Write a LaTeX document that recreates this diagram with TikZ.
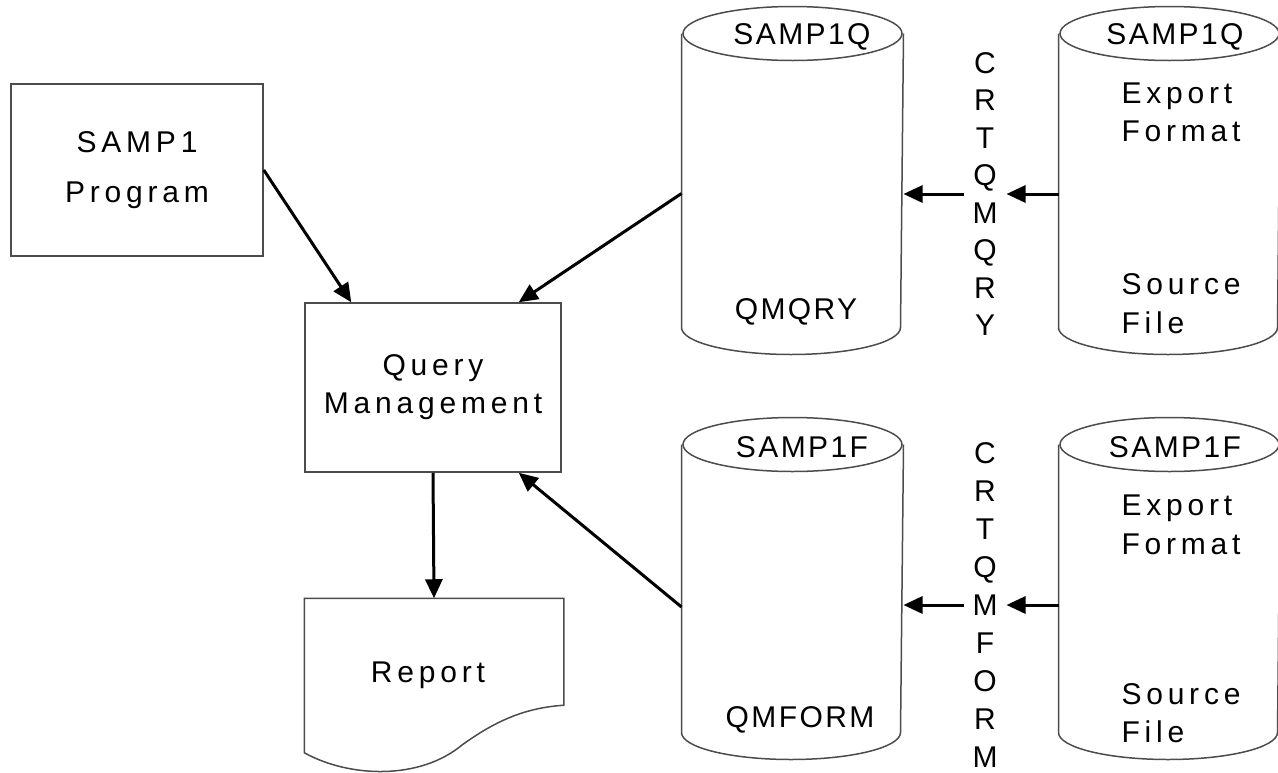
\documentclass[tikz,border=0pt]{standalone}
\usepackage{fontspec}
\setmainfont{Liberation Sans}
\newfontfamily\widefont[LetterSpace=16]{Liberation Sans}
\newfontfamily\namefont[LetterSpace=8]{Liberation Sans}
\usetikzlibrary{arrows.meta,positioning}

\tikzset{
  outline/.style={draw=black!70, line width=1.5pt},
  box/.style={outline, align=center, font=\widefont\fontsize{30}{38}\selectfont},
  dbase/.style={minimum width=219pt, minimum height=345pt, inner sep=0pt},
  dbname/.style={font=\namefont\fontsize{30}{38}\selectfont, inner sep=0pt},
  words/.style={font=\widefont\fontsize{30}{38.5}\selectfont, align=left, anchor=west, inner sep=0pt},
  letters/.style={font=\fontsize{30}{37.5}\selectfont, align=center, inner sep=7.5pt},
}
% cylinder outline round a dbase node
\newcommand\dbdraw[1]{%
  \draw[outline] ([yshift=-27pt]#1.north west) -- ([yshift=27pt]#1.south west)
      arc[start angle=180, end angle=360, x radius=109.5pt, y radius=27pt]
      -- ([yshift=-27pt]#1.north east);
  \draw[outline] ([yshift=-27pt]#1.north) ellipse [x radius=109.5pt, y radius=27pt];}

\begin{document}
\begin{tikzpicture}[x=1pt,y=-1pt,>={Triangle[length=19pt,width=17pt]},line width=3pt]
    \useasboundingbox (0,0) rectangle (1278,772);

    \node[box, minimum width=252pt, minimum height=172pt] (samp) at (137,170) {SAMP1\\[12pt]Program};
    \node[box, minimum width=256pt, minimum height=169pt] (qm) at (433,387.5) {Query\\Management};
    \node[box, draw=none, minimum width=258pt, minimum height=153pt] (rep) at (434,675.5) {\hspace*{-12pt}Report};
    \draw[outline] (rep.north west) -- (rep.north east) -- ++(0,107)
        .. controls (520,708) and (490,725) .. (462,745)
        .. controls (420,780) and (350,778) .. (rep.south west) -- cycle;

    % query side
    \node[dbase] (qmqry) at (792.5,180.5) {};
    \node[dbase] (srcq) at (1169.5,180.5) {};
    \dbdraw{qmqry} \dbdraw{srcq}
    \node[dbname] (qmqrytop) at (802,37) {SAMP1Q};
    \node[dbname] (qmqrybot) at (796,312) {QMQRY};
    \node[dbname] (srcqtop) at (1175,37) {SAMP1Q};
    \node[words] (srcqexp) at (1120,112.5) {Export\\Format};
    \node[words] (srcqsrc) at (1120,303.5) {Source\\File};
    \node[letters] (crtq) at (985,194) {C\\R\\T\\Q\\M\\Q\\R\\Y};

    % form side
    \node[dbase, minimum height=339pt] (qmform) at (792.5,588.5) {};
    \node[dbase, minimum height=339pt] (srcf) at (1169.5,588.5) {};
    \dbdraw{qmform} \dbdraw{srcf}
    \node[dbname] (qmformtop) at (802,447) {SAMP1F};
    \node[dbname] (qmformbot) at (800,720) {QMFORM};
    \node[dbname] (srcftop) at (1175,447) {SAMP1F};
    \node[words] (srcfexp) at (1120,525) {Export\\Format};
    \node[words] (srcfsrc) at (1120,713) {Source\\File};
    \node[letters, font=\fontsize{30}{38}\selectfont] (crtf) at (985,605) {C\\R\\T\\Q\\M\\F\\O\\R\\M};

    \path[->] (samp.east) edge ([xshift=47pt]qm.north west);
    \path[->] ([yshift=-13pt]qmqry.west) edge ([xshift=-43pt]qm.north east);
    \path[->] ([yshift=-18.5pt]qmform.west) edge ([xshift=-43pt]qm.south east);
    \path[->] (qm.south) edge (rep.north);
    \path[->] (crtq.east -| srcq.west) edge (crtq.east);
    \path[->] (crtq.west) edge (crtq.west -| qmqry.east);
    \path[->] (crtf.east -| srcf.west) edge (crtf.east);
    \path[->] (crtf.west) edge (crtf.west -| qmform.east);
\end{tikzpicture}
\end{document}
